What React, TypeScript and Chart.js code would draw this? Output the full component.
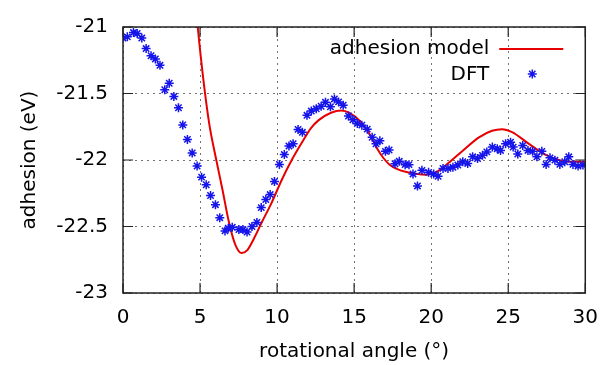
import React, { useEffect, useRef } from 'react';
import { Chart, registerables } from 'chart.js';

Chart.register(...registerables);

const dftAngles = [
  0.0, 0.28, 0.68, 0.92, 1.22, 1.5, 1.82, 2.1, 2.4, 2.71, 3.0, 3.3, 3.6, 3.88, 4.18,
  4.49, 4.81, 5.1, 5.4, 5.68, 6.0, 6.28, 6.62, 6.83, 7.09, 7.52, 7.78, 8.05, 8.37, 8.69,
  8.97, 9.27, 9.55, 9.83, 10.15, 10.47, 10.77, 11.04, 11.36, 11.64, 11.94, 12.22, 12.54, 12.86, 13.14,
  13.46, 13.72, 13.99, 14.29, 14.63, 14.92, 15.21, 15.5, 15.85, 16.17, 16.42, 16.67, 17.03, 17.27, 17.65,
  17.93, 18.31, 18.56, 18.82, 19.11, 19.4, 19.83, 20.16, 20.45, 20.77, 21.09, 21.41, 21.73, 22.05, 22.37,
  22.69, 23.01, 23.33, 23.61, 23.97, 24.29, 24.5, 24.83, 25.15, 25.32, 25.62, 25.94, 26.28, 26.58, 26.86,
  27.18, 27.46, 27.71, 28.03, 28.35, 28.67, 28.93, 29.2, 29.53, 29.85,
];
const dftValues = [
  -21.083, -21.074, -21.042, -21.049, -21.083, -21.162, -21.216, -21.24, -21.288, -21.472, -21.423, -21.522, -21.607, -21.736, -21.845,
  -21.947, -22.045, -22.129, -22.186, -22.267, -22.336, -22.434, -22.533, -22.513, -22.506, -22.523, -22.523, -22.542, -22.5, -22.469,
  -22.358, -22.297, -22.26, -22.161, -22.033, -21.959, -21.895, -21.878, -21.77, -21.792, -21.664, -21.632, -21.615, -21.596, -21.566,
  -21.6, -21.541, -21.563, -21.588, -21.669, -21.698, -21.725, -21.738, -21.768, -21.829, -21.878, -21.856, -21.935, -21.925, -22.028,
  -22.01, -22.035, -22.035, -22.105, -22.195, -22.078, -22.093, -22.106, -22.122, -22.063, -22.063, -22.055, -22.038, -22.013, -22.026,
  -21.976, -21.989, -21.965, -21.939, -21.903, -21.915, -21.928, -21.878, -21.866, -21.903, -21.955, -21.891, -21.928, -21.935, -21.976,
  -21.935, -22.033, -21.984, -22.001, -22.033, -22.013, -21.976, -22.033, -22.046, -22.038,
];

const modelAngles = [
  4.5, 4.85, 5.2, 5.6, 6.0, 6.45, 6.88, 7.3, 7.7, 8.05, 8.5, 9.0, 9.65, 10.3, 10.95,
  11.6, 12.2, 12.7, 13.5, 14.15, 14.7, 15.4, 16.05, 16.5, 16.9, 17.3, 17.8, 18.4, 19.0, 19.7,
  20.35, 21.2, 22.05, 23.1, 23.95, 24.6, 25.25, 26.3, 27.4, 28.45, 29.3, 30.0,
];
const modelValues = [
  -20.55, -21.0, -21.38, -21.73, -21.97, -22.22, -22.47, -22.64, -22.7, -22.68, -22.59, -22.47, -22.32, -22.15, -22.0,
  -21.87, -21.76, -21.7, -21.645, -21.627, -21.645, -21.71, -21.815, -21.915, -21.985, -22.035, -22.068, -22.09, -22.103, -22.11,
  -22.09, -22.015, -21.93, -21.83, -21.78, -21.768, -21.79, -21.875, -21.96, -22.005, -22.013, -22.013,
];

const seriesLabels = ['adhesion model', 'DFT'];
const xTicks = [0, 5, 10, 15, 20, 25, 30];
const xTickLabels = ['0', '5', '10', '15', '20', '25', '30'];
const yTicks = [-23, -22.5, -22, -21.5, -21];
const yTickLabels = ['-23', '-22.5', '-22', '-21.5', '-21'];
const xTitle = 'rotational angle (°)';
const yTitle = 'adhesion (eV)';

const FONT = '"DejaVu Sans", Verdana, sans-serif';
const FONT_SIZE = 20;
const RED = 'rgb(230,0,0)';
const BLUE = 'rgb(20,20,235)';

const framePlugin = {
  id: 'frame',
  afterDatasetsDraw(chart: any) {
    const { ctx, chartArea, scales } = chart;
    const { left, right, top, bottom } = chartArea;
    const xs = scales.x;
    const ys = scales.y;
    ctx.save();
    ctx.strokeStyle = '#222';
    ctx.lineWidth = 1.2;
    ctx.beginPath();
    xTicks.forEach((v) => {
      const px = xs.getPixelForValue(v);
      ctx.moveTo(px, bottom);
      ctx.lineTo(px, bottom - 10);
      ctx.moveTo(px, top);
      ctx.lineTo(px, top + 10);
    });
    yTicks.forEach((v) => {
      const py = ys.getPixelForValue(v);
      ctx.moveTo(left, py);
      ctx.lineTo(left + 10, py);
      ctx.moveTo(right, py);
      ctx.lineTo(right - 10, py);
    });
    ctx.stroke();
    ctx.lineWidth = 1.5;
    ctx.strokeRect(left, top, right - left, bottom - top);

    // legend
    const ds = chart.data.datasets;
    ctx.font = `${FONT_SIZE}px ${FONT}`;
    ctx.fillStyle = '#000';
    ctx.textAlign = 'right';
    ctx.textBaseline = 'middle';
    const textRight = right - 96;
    const y1 = top + 22;
    const y2 = top + 48;
    ctx.fillText(ds[0].label, textRight, y1);
    ctx.fillText(ds[1].label, textRight, y2);
    ctx.strokeStyle = ds[0].borderColor;
    ctx.lineWidth = 2;
    ctx.beginPath();
    ctx.moveTo(textRight + 10, y1);
    ctx.lineTo(right - 22, y1);
    ctx.stroke();
    // asterisk sample
    const cx = right - 53;
    const cy = y2 - 1;
    const r = 4.5;
    ctx.strokeStyle = ds[1].borderColor;
    ctx.lineWidth = 1.5;
    ctx.beginPath();
    ctx.moveTo(cx - r, cy);
    ctx.lineTo(cx + r, cy);
    ctx.moveTo(cx, cy - r);
    ctx.lineTo(cx, cy + r);
    const d = r * Math.SQRT1_2;
    ctx.moveTo(cx - d, cy - d);
    ctx.lineTo(cx + d, cy + d);
    ctx.moveTo(cx - d, cy + d);
    ctx.lineTo(cx + d, cy - d);
    ctx.stroke();
    ctx.restore();
  },
};

export default function App() {
  const canvasRef = useRef<HTMLCanvasElement | null>(null);

  useEffect(() => {
    const canvas = canvasRef.current;
    if (!canvas) return;
    const modelData = modelAngles.map((x, i) => ({ x, y: modelValues[i] }));
    const dftData = dftAngles.map((x, i) => ({ x, y: dftValues[i] }));
    const tickFont = { family: FONT, size: FONT_SIZE, lineHeight: 1.2 };
    const chart = new Chart(canvas, {
      type: 'scatter',
      data: {
        datasets: [
          {
            label: seriesLabels[0],
            data: modelData,
            showLine: true,
            borderColor: RED,
            backgroundColor: RED,
            borderWidth: 2,
            pointRadius: 0,
            cubicInterpolationMode: 'monotone',
            order: 2,
          } as any,
          {
            label: seriesLabels[1],
            data: dftData,
            showLine: false,
            pointStyle: 'star',
            pointRadius: 4.5,
            borderColor: BLUE,
            backgroundColor: BLUE,
            pointBorderWidth: 1.5,
            order: 1,
          } as any,
        ],
      },
      options: {
        animation: false,
        responsive: false,
        devicePixelRatio: 1,
        layout: { padding: { left: 0, right: 20, top: 21, bottom: 0 } },
        plugins: {
          legend: { display: false },
          tooltip: { enabled: false },
        },
        scales: {
          x: {
            type: 'linear',
            min: 0,
            max: 30,
            afterBuildTicks: (scale: any) => {
              scale.ticks = xTicks.map((v) => ({ value: v }));
            },
            afterFit: (scale: any) => {
              scale.height = 72;
            },
            ticks: {
              color: '#000',
              font: tickFont,
              padding: 13,
              maxRotation: 0,
              callback: (v: any) => {
                const i = xTicks.indexOf(Number(v));
                return i >= 0 ? xTickLabels[i] : '';
              },
            },
            grid: { color: 'rgba(0,0,0,0.55)', lineWidth: 1, drawTicks: false },
            border: { display: false, dash: [2, 4] },
            title: {
              display: true,
              text: xTitle,
              color: '#000',
              font: tickFont,
              padding: { top: 0, bottom: 1 },
            },
          },
          y: {
            type: 'linear',
            min: -23,
            max: -21,
            afterBuildTicks: (scale: any) => {
              scale.ticks = yTicks.map((v) => ({ value: v }));
            },
            afterFit: (scale: any) => {
              scale.width = 123;
            },
            ticks: {
              color: '#000',
              font: tickFont,
              padding: 15,
              callback: (v: any) => {
                const i = yTicks.indexOf(Number(v));
                return i >= 0 ? yTickLabels[i] : '';
              },
            },
            grid: { color: 'rgba(0,0,0,0.55)', lineWidth: 1, drawTicks: false },
            border: { display: false, dash: [2, 4] },
            title: {
              display: true,
              text: yTitle,
              color: '#000',
              font: tickFont,
              padding: { top: 18, bottom: 0 },
            },
          },
        },
      } as any,
      plugins: [framePlugin],
    });
    return () => chart.destroy();
  }, []);

  return (
    <div style={{ position: 'fixed', left: 0, top: 0, width: 611, height: 365, background: '#fff' }}>
      <canvas ref={canvasRef} width={611} height={365} style={{ display: 'block', width: 611, height: 365 }} />
    </div>
  );
}
